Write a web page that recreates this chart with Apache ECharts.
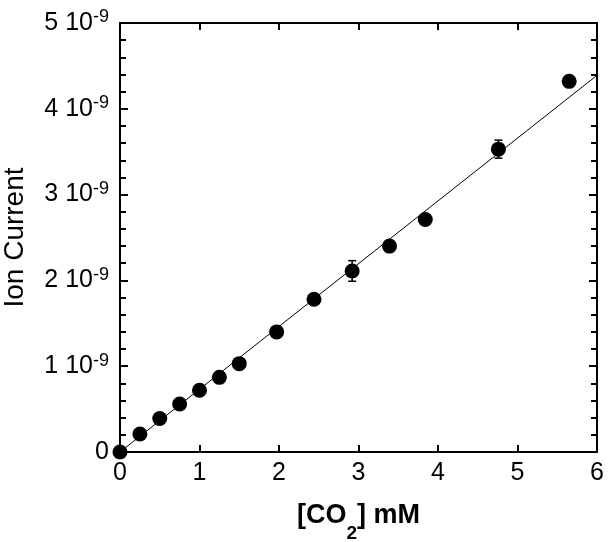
<!DOCTYPE html>
<html lang="en">
<head>
    <meta charset="utf-8">
    <title>Ion Current vs CO2</title>
    <script src="https://cdn.jsdelivr.net/npm/echarts@6.0.0/dist/echarts.min.js"></script>
    <style>
        html, body { margin: 0; padding: 0; background: #fff; }
        #chart { width: 608px; height: 542px; }
    </style>
</head>
<body>
<div id="chart"></div>
<script type="text/javascript">
    // [CO2] in mM, ion current in units of 1e-9
    var co2 = [0, 0.25, 0.5, 0.75, 1.0, 1.25, 1.5, 1.97, 2.44, 2.92, 3.39, 3.84, 4.76, 5.65];
    var current = [0, 0.21, 0.39, 0.56, 0.72, 0.87, 1.03, 1.40, 1.78, 2.11, 2.40, 2.71, 3.53, 4.32];
    var errBar = [0, 0, 0, 0, 0, 0, 0, 0, 0, 0.12, 0, 0, 0.105, 0];
    // fitted line end points
    var fitX = [0, 6];
    var fitY = [0, 4.39];

    var pts = [];
    for (var i = 0; i < co2.length; i++) {
        pts.push([co2[i], current[i], errBar[i]]);
    }
    var fitLine = [];
    for (var j = 0; j < fitX.length; j++) {
        fitLine.push([fitX[j], fitY[j]]);
    }

    var font = 'Liberation Sans, Arial, sans-serif';
    var axisLineStyle = {color: '#000', width: 2};

    var myChart = echarts.init(document.getElementById('chart'));
    var option = {
        backgroundColor: '#fff',
        animation: false,
        grid: {left: 120, right: 11, top: 23, bottom: 90, containLabel: false, outerBoundsMode: 'none'},
        xAxis: [
            {
                type: 'value', min: 0, max: 6, interval: 1,
                name: '[CO{sub|2}] mM',
                nameLocation: 'middle',
                nameGap: 36,
                nameTextStyle: {
                    fontFamily: font, fontSize: 27, fontWeight: 'bold', color: '#000',
                    rich: {sub: {fontFamily: font, fontSize: 19, fontWeight: 'bold', color: '#000', padding: [36, 0, 0, 0]}}
                },
                axisLine: {show: true, onZero: false, lineStyle: axisLineStyle},
                axisTick: {show: true, inside: true, length: 7, lineStyle: {color: '#000', width: 2}},
                axisLabel: {fontFamily: font, fontSize: 25, color: '#000', margin: 9},
                splitLine: {show: false}
            },
            {
                type: 'value', min: 0, max: 6, interval: 1, position: 'top',
                axisLine: {show: true, onZero: false, lineStyle: axisLineStyle},
                axisTick: {show: true, inside: true, length: 7, lineStyle: {color: '#000', width: 2}},
                axisLabel: {show: false},
                splitLine: {show: false}
            }
        ],
        yAxis: [
            {
                type: 'value', min: 0, max: 5, interval: 1,
                name: 'Ion Current',
                nameLocation: 'middle',
                nameGap: 91,
                nameTextStyle: {fontFamily: font, fontSize: 28, color: '#000'},
                axisLine: {show: true, onZero: false, lineStyle: axisLineStyle},
                axisTick: {show: true, inside: true, length: 8, lineStyle: {color: '#000', width: 2}},
                minorTick: {show: true, splitNumber: 5, length: 6, lineStyle: {color: '#000', width: 2}},
                axisLabel: {
                    fontFamily: font, fontSize: 25, color: '#000', margin: 11,
                    formatter: function (v) {
                        if (v === 0) return '0';
                        return v + ' 10{sup|-9}';
                    },
                    rich: {sup: {fontFamily: font, fontSize: 18, color: '#000', padding: [0, 0, 11, 0]}}
                },
                splitLine: {show: false},
                minorSplitLine: {show: false}
            },
            {
                type: 'value', min: 0, max: 5, interval: 1, position: 'right',
                axisLine: {show: true, onZero: false, lineStyle: axisLineStyle},
                axisTick: {show: true, inside: true, length: 8, lineStyle: {color: '#000', width: 2}},
                minorTick: {show: true, splitNumber: 5, length: 6, lineStyle: {color: '#000', width: 2}},
                axisLabel: {show: false},
                splitLine: {show: false},
                minorSplitLine: {show: false}
            }
        ],
        series: [
            {
                name: 'fit',
                type: 'line',
                data: fitLine,
                showSymbol: false,
                symbol: 'none',
                lineStyle: {color: '#000', width: 1},
                z: 2
            },
            {
                name: 'error',
                type: 'custom',
                data: pts,
                renderItem: function (params, api) {
                    var e = api.value(2);
                    if (!e) return null;
                    var x = api.value(0), y = api.value(1);
                    var hi = api.coord([x, y + e]);
                    var lo = api.coord([x, y - e]);
                    var w = 4;
                    var st = {stroke: '#000', lineWidth: 1.5};
                    return {
                        type: 'group',
                        children: [
                            {type: 'line', shape: {x1: hi[0], y1: hi[1], x2: lo[0], y2: lo[1]}, style: st},
                            {type: 'line', shape: {x1: hi[0] - w, y1: hi[1], x2: hi[0] + w, y2: hi[1]}, style: st},
                            {type: 'line', shape: {x1: lo[0] - w, y1: lo[1], x2: lo[0] + w, y2: lo[1]}, style: st}
                        ]
                    };
                },
                z: 3
            },
            {
                name: 'data',
                type: 'scatter',
                data: pts,
                symbol: 'circle',
                symbolSize: 15,
                itemStyle: {color: '#000', opacity: 1},
                z: 4
            }
        ]
    };
    myChart.setOption(option);
</script>
</body>
</html>
